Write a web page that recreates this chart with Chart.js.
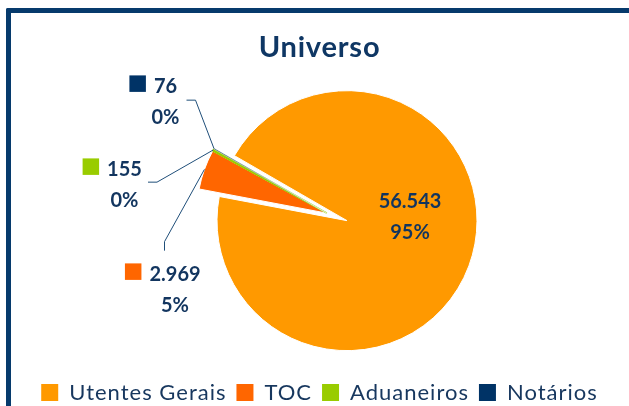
<!DOCTYPE html>
<html>
<head>
<meta charset="utf-8">
<script src="https://cdn.jsdelivr.net/npm/chart.js@4.4.1/dist/chart.umd.min.js"></script>
<style>
    html, body { margin: 0; padding: 0; background: #fff; }
    #wrap { position: relative; width: 629px; height: 406px; overflow: hidden; }
    #frame {
        position: absolute; left: 6px; top: 8px; width: 700px; height: 500px;
        border-left: 5px solid #063a6c; border-top: 5px solid #063a6c;
        border-top-left-radius: 2px;
    }
    #chart { position: absolute; left: 0; top: 0; }
</style>
</head>
<body>
<div id="wrap">
    <div id="frame"></div>
    <canvas id="chart" width="629" height="406"></canvas>
</div>
<script>
// dados
const categories = ['Utentes Gerais', 'TOC', 'Aduaneiros', 'Notários'];
const values = [56543, 2969, 155, 76];
const colors = ['#FF9900', '#FF6600', '#99CC00', '#003366'];
const exploded = [false, true, true, true];

// posição dos rótulos (centro do bloco, relativo ao centro da tarte)
const labelOffsets = [[63, -4], [-172, 69], [-222.5, -36], [-181.5, -119]];
// linhas de chamada: ponto inicial e cotovelo, relativos ao centro da tarte
const leaderPoints = [null, [[-182.5, 30], [-182.5, 21]], [[-199, -38.5], [-190, -38.5]], [[-160.5, -120.5], [-151.5, -120.5]]];

const TEXT_COLOR = '#12355F';
const EXPLODE_DIST = 21.5;
const LINE_GAP = 31;

const fmt = v => String(v).replace(/\B(?=(\d{3})+(?!\d))/g, '.');

function explodeShift(chart) {
    const arcs = chart.getDatasetMeta(0).data;
    let a0 = Infinity, a1 = -Infinity;
    arcs.forEach((arc, i) => {
        if (!exploded[i]) return;
        a0 = Math.min(a0, arc.startAngle);
        a1 = Math.max(a1, arc.endAngle);
    });
    const mid = (a0 + a1) / 2;
    return { dx: Math.cos(mid) * EXPLODE_DIST, dy: Math.sin(mid) * EXPLODE_DIST };
}

// espaço à esquerda para deslocar a tarte sem mexer no título/legenda
const spacerPlugin = {
    id: 'spacer',
    beforeInit(chart) {
        Chart.layouts.addBox(chart, {
            position: 'left', weight: 0, fullSize: false, options: {},
            isHorizontal() { return false; },
            update(maxWidth, maxHeight) { this.width = 55; this.height = maxHeight; },
            draw() {}
        });
    }
};

// fatias destacadas
const explodePlugin = {
    id: 'explode',
    afterDatasetsUpdate(chart) {
        chart.getDatasetMeta(0).data.forEach((arc, i) => {
            if (!exploded[i] || arc._exploded) return;
            const draw = arc.draw;
            arc.draw = function (ctx) {
                const s = explodeShift(chart);
                ctx.save();
                ctx.translate(s.dx, s.dy);
                draw.call(this, ctx);
                ctx.restore();
            };
            arc._exploded = true;
        });
    }
};

// espaçamento das letras (legenda e título)
function withSpacing(chart, box, spacing, methods) {
    methods.forEach(name => {
        const orig = box[name];
        box[name] = function (...args) {
            chart.ctx.save();
            chart.ctx.letterSpacing = spacing;
            const r = orig.apply(this, args);
            chart.ctx.restore();
            return r;
        };
    });
}

const spacingPlugin = {
    id: 'letterSpacing',
    beforeLayout(chart) {
        if (chart._spaced) return;
        chart._spaced = true;
        if (chart.legend) withSpacing(chart, chart.legend, '1px', ['fit', 'draw']);
        if (chart.titleBlock) withSpacing(chart, chart.titleBlock, '0.8px', ['draw']);
    }
};

// rótulos de dados com linhas de chamada
const labelsPlugin = {
    id: 'dataLabels',
    afterDatasetsDraw(chart) {
        const ctx = chart.ctx;
        const arcs = chart.getDatasetMeta(0).data;
        const cx = arcs[0].x, cy = arcs[0].y;
        const s = explodeShift(chart);
        const total = values.reduce((a, b) => a + b, 0);

        ctx.save();
        values.forEach((v, i) => {
            const [ox, oy] = labelOffsets[i];
            const x = cx + ox, y = cy + oy;
            const lines = [fmt(v), Math.round(v / total * 100) + '%'];

            ctx.font = 'bold 20px Lato';
            ctx.fillStyle = TEXT_COLOR;
            ctx.textAlign = 'center';
            ctx.textBaseline = 'alphabetic';
            ctx.fillText(lines[0], x, y - LINE_GAP / 2 + 7.2);
            ctx.fillText(lines[1], x, y + LINE_GAP / 2 + 7.2);

            if (!exploded[i]) return;

            const w = ctx.measureText(lines[0]).width;
            const sz = 16.5;
            ctx.fillStyle = colors[i];
            ctx.fillRect(x - w / 2 - 8 - sz, y - LINE_GAP / 2 - 2.5 - sz / 2, sz, sz);

            const arc = arcs[i];
            const mid = (arc.startAngle + arc.endAngle) / 2;
            const ex = arc.x + s.dx + Math.cos(mid) * arc.outerRadius;
            const ey = arc.y + s.dy + Math.sin(mid) * arc.outerRadius;
            const [p0, p1] = leaderPoints[i];
            ctx.beginPath();
            ctx.moveTo(cx + p0[0], cy + p0[1]);
            ctx.lineTo(cx + p1[0], cy + p1[1]);
            ctx.lineTo(ex, ey);
            ctx.strokeStyle = '#1F4E79';
            ctx.lineWidth = 1;
            ctx.stroke();
        });
        ctx.restore();
    }
};

new Chart(document.getElementById('chart'), {
    type: 'pie',
    data: {
        labels: categories,
        datasets: [{
            data: values,
            backgroundColor: colors,
            borderColor: ['#ffffff', '#ffffff', '#99CC00', '#ffffff'],
            borderWidth: [1, 1, 1.5, 0.5],
            radius: 130
        }]
    },
    options: {
        responsive: false,
        maintainAspectRatio: false,
        animation: false,
        rotation: -60,
        layout: { padding: { left: 10, right: 0, top: 0, bottom: 0 } },
        plugins: {
            title: {
                display: true,
                text: 'Universo',
                color: '#0F3764',
                font: { family: 'Lato', size: 29, weight: 'bold' },
                padding: { top: 30.5, bottom: 4.5 }
            },
            legend: {
                position: 'bottom',
                maxHeight: 34.5,
                labels: {
                    color: '#17375E',
                    font: { family: 'Lato', size: 22 },
                    boxWidth: 17,
                    boxHeight: 17,
                    padding: 10,
                    generateLabels: () => categories.map((c, i) => ({
                        text: c, fillStyle: colors[i], strokeStyle: colors[i],
                        lineWidth: 0, hidden: false, index: i, fontColor: '#17375E'
                    }))
                }
            },
            tooltip: { enabled: false }
        }
    },
    plugins: [spacerPlugin, explodePlugin, spacingPlugin, labelsPlugin]
});
</script>
</body>
</html>
